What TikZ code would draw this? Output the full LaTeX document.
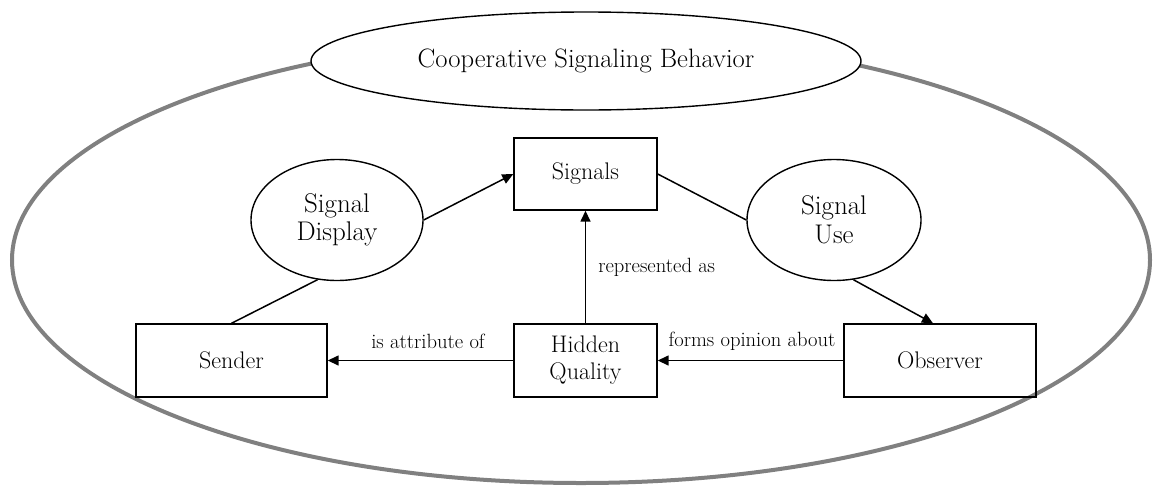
\documentclass[tikz,border=0pt]{standalone}
\usepackage{fontspec}
\usetikzlibrary{arrows.meta,shapes.geometric}
\tikzset{
  boxnode/.style={draw=black,line width=1.4pt,rectangle,inner sep=0pt,minimum height=73pt,align=center,font=\fontsize{24}{27}\selectfont},
  ellnode/.style={draw=black,line width=1.4pt,ellipse,inner sep=0pt,minimum width=172pt,minimum height=121pt,align=center,font=\fontsize{27}{28.5}\selectfont},
  lbl/.style={font=\fontsize{20.6}{23}\selectfont,inner sep=0pt},
  conn/.style={line width=1.5pt,draw=black},
  arr/.style={conn,-{Triangle[length=11pt,width=10pt]}}
}
\begin{document}
\begin{tikzpicture}[x=1pt,y=-1pt]
\useasboundingbox (0,0) rectangle (1155,490);
\draw[line width=4pt,draw=black!50] (581,260) ellipse [x radius=569, y radius=223];
\node[draw=black,line width=1.4pt,fill=white,ellipse,inner sep=0pt,minimum width=550pt,minimum height=98pt,font=\fontsize{26.6}{30}\selectfont] (title) at (586,61) {Cooperative Signaling Behavior};
\node[boxnode,minimum width=143pt,minimum height=72pt] (sig) at (585.5,174) {Signals};
\node[ellnode] (sd) at (337,220) {Signal\\Display};
\node[ellnode,minimum width=174pt] (su) at (834,220) {Signal\\Use};
\node[boxnode,minimum width=191pt] (snd) at (231.5,360.5) {Sender};
\node[boxnode,minimum width=143pt] (hq) at (585.5,360.5) {Hidden\\Quality};
\node[boxnode,minimum width=192pt] (obs) at (940,360.5) {Observer};
\draw[arr] (sd.east) -- (sig.west);
\draw[conn] (sig.east) -- (su.west);
\draw[arr] (su.-72) -- ([xshift=-7pt]obs.north);
\draw[conn] (sd.-108) -- (snd.north);
\draw[arr] (hq.north) -- node[lbl,right=12pt,pos=0.5] (lra) {represented as} (sig.south);
\draw[arr] (hq.west) -- (snd.east);
\draw[arr] (obs.west) -- (hq.east);
\node[lbl] (lattr) at (428,341) {is attribute of};
\node[lbl] (lform) at (752,341) {forms opinion about};
\end{tikzpicture}
\end{document}
